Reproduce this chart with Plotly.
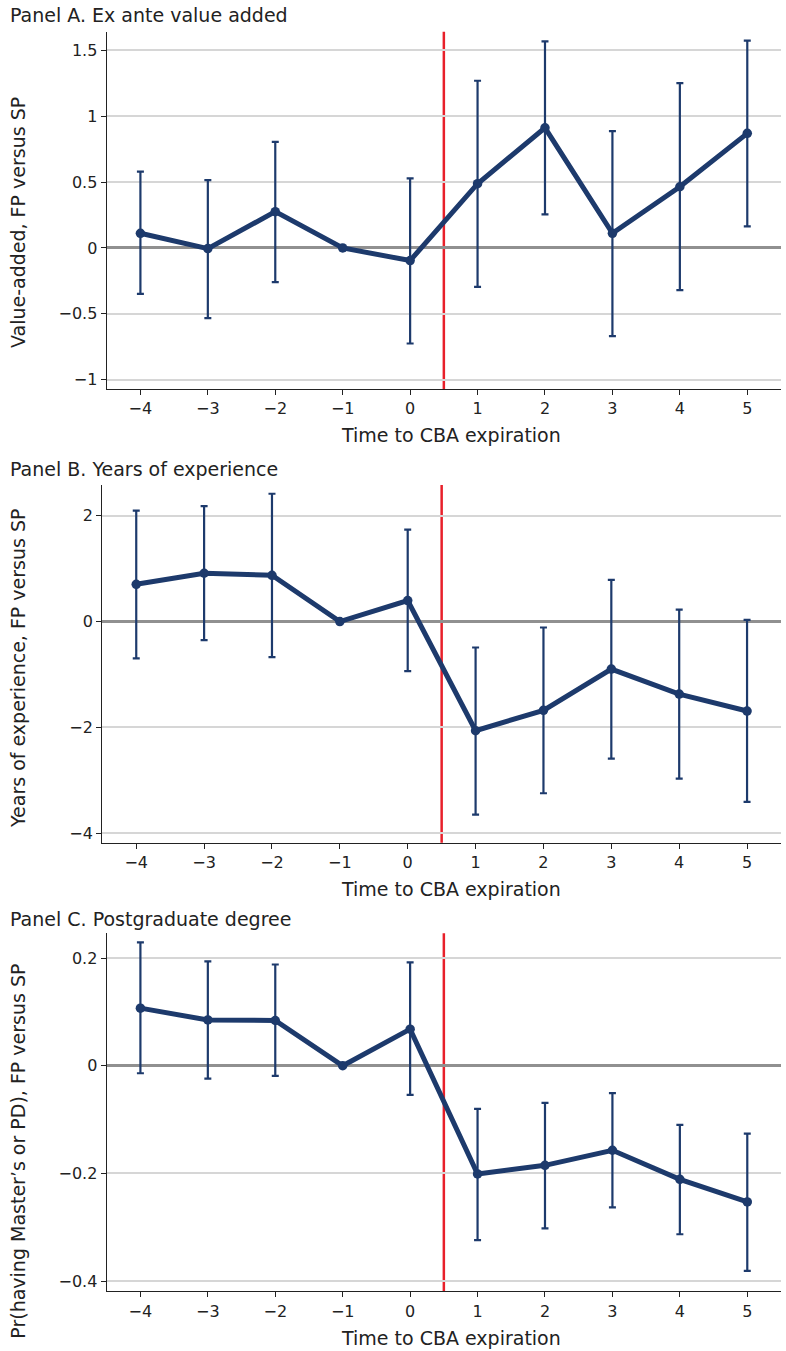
import plotly.graph_objects as go

# ---------------- data ----------------
time_to_cba = [-4, -3, -2, -1, 0, 1, 2, 3, 4, 5]

# Panel A: ex ante value added
va_coef = [0.111, -0.005, 0.275, 0.0, -0.096, 0.487, 0.911, 0.111, 0.464, 0.869]
va_hi = [0.578, 0.515, 0.805, 0.0, 0.528, 1.268, 1.566, 0.886, 1.250, 1.573]
va_lo = [-0.348, -0.533, -0.260, 0.0, -0.725, -0.295, 0.255, -0.669, -0.320, 0.164]

# Panel B: years of experience
exp_coef = [0.704, 0.912, 0.874, 0.0, 0.396, -2.063, -1.679, -0.899, -1.371, -1.692]
exp_hi = [2.094, 2.182, 2.415, 0.0, 1.736, -0.491, -0.113, 0.786, 0.226, 0.031]
exp_lo = [-0.698, -0.352, -0.673, 0.0, -0.937, -3.648, -3.245, -2.591, -2.969, -3.409]

# Panel C: postgraduate degree
pg_coef = [0.107, 0.085, 0.084, 0.0, 0.068, -0.201, -0.185, -0.157, -0.211, -0.253]
pg_hi = [0.229, 0.194, 0.188, 0.0, 0.192, -0.080, -0.069, -0.051, -0.110, -0.126]
pg_lo = [-0.014, -0.024, -0.019, 0.0, -0.054, -0.324, -0.302, -0.263, -0.313, -0.381]

panel_titles = ["Panel A. Ex ante value added",
                "Panel B. Years of experience",
                "Panel C. Postgraduate degree"]
y_titles = ["Value-added, FP versus SP",
            "Years of experience, FP versus SP",
            "Pr(having Master\u2019s or PD), FP versus SP"]
x_title = "Time to CBA expiration"
x_ticks = [-4, -3, -2, -1, 0, 1, 2, 3, 4, 5]
y_ticks = [[-1, -0.5, 0, 0.5, 1, 1.5], [-4, -2, 0, 2], [-0.4, -0.2, 0, 0.2]]
y_ranges = [[-1.07, 1.64], [-4.18, 2.58], [-0.419, 0.246]]
cutoff = 0.5

# ---------------- styling / layout ----------------
W, H = 786, 1351
NAVY = "#1d3a6c"
RED = "#e8202a"
FONT = "DejaVu Sans"
TXT = "#222222"

def px(x):
    return x / W

def py(y):
    return 1 - y / H

# plot areas in pixels: (left, right, top, bottom)
areas = [(106.7, 781, 31.7, 389), (102.3, 781, 485, 842.7), (106.7, 781, 933.3, 1291.3)]
title_y = [15, 469, 919]
xtitle_y = [435, 889, 1338]
ytitle_y = [223, 669, 1151.7]

series = [(va_coef, va_hi, va_lo), (exp_coef, exp_hi, exp_lo), (pg_coef, pg_hi, pg_lo)]

fig = go.Figure()
layout = dict(width=W, height=H, margin=dict(l=0, r=0, t=0, b=0),
              paper_bgcolor="white", plot_bgcolor="white", showlegend=False,
              font=dict(family=FONT, color=TXT))
annotations = []
shapes = []

for i, (coef, hi, lo) in enumerate(series):
    n = "" if i == 0 else str(i + 1)
    plus = [h - c for h, c in zip(hi, coef)]
    minus = [c - l for c, l in zip(coef, lo)]
    fig.add_trace(go.Scatter(
        x=time_to_cba, y=coef, mode="lines+markers",
        xaxis="x" + n, yaxis="y" + n,
        line=dict(color=NAVY, width=5),
        marker=dict(color=NAVY, size=9.5),
        error_y=dict(type="data", symmetric=False, array=plus, arrayminus=minus,
                     color=NAVY, thickness=2.2, width=3.5),
        cliponaxis=False,
    ))
    l, r, t, b = areas[i]
    layout["xaxis" + n] = dict(
        domain=[px(l), px(r)], anchor="y" + n, range=[-4.5, 5.5],
        tickmode="array", tickvals=x_ticks, showgrid=False, zeroline=False,
        showline=True, linecolor=TXT, linewidth=1.3, ticks="outside",
        ticklen=5, tickcolor=TXT, tickwidth=1.2,
        tickfont=dict(family=FONT, size=16, color=TXT), automargin=False,
    )
    layout["yaxis" + n] = dict(
        domain=[py(b), py(t)], anchor="x" + n, range=y_ranges[i],
        tickmode="array", tickvals=y_ticks[i], showgrid=True,
        gridcolor="#d6d6d6", gridwidth=1.5,
        zeroline=True, zerolinecolor="#909090", zerolinewidth=2.7,
        showline=True, linecolor=TXT, linewidth=1.3, ticks="outside",
        ticklen=5, tickcolor=TXT, tickwidth=1.2,
        tickfont=dict(family=FONT, size=16, color=TXT), automargin=False,
    )
    shapes.append(dict(type="line", xref="x" + n, yref="y" + n + " domain",
                       x0=cutoff, x1=cutoff, y0=0, y1=1,
                       line=dict(color=RED, width=2.5), layer="below"))
    annotations.append(dict(text=panel_titles[i], xref="paper", yref="paper",
                            x=px(8), y=py(title_y[i]), xanchor="left", yanchor="middle",
                            showarrow=False, font=dict(family=FONT, size=19, color=TXT)))
    annotations.append(dict(text=x_title, xref="paper", yref="paper",
                            x=px(451), y=py(xtitle_y[i]), xanchor="center", yanchor="middle",
                            showarrow=False, font=dict(family=FONT, size=19, color=TXT)))
    annotations.append(dict(text=y_titles[i], xref="paper", yref="paper",
                            x=px(18), y=py(ytitle_y[i]), xanchor="center", yanchor="middle",
                            textangle=-90, showarrow=False,
                            font=dict(family=FONT, size=19, color=TXT)))

layout["annotations"] = annotations
layout["shapes"] = shapes
fig.update_layout(**layout)
fig.write_html("out.html")
